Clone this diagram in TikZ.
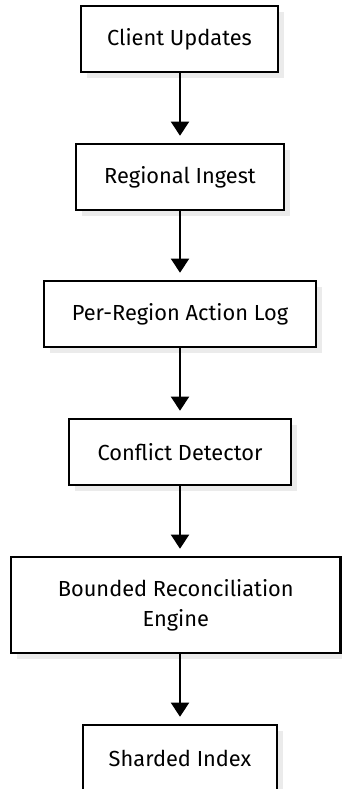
\documentclass[tikz,border=0pt]{standalone}
\usepackage{fontspec}
\setmainfont{Fira Sans}
\usetikzlibrary{arrows.meta,shadows}
\tikzset{
  stage/.style={draw=black, line width=2.6pt, fill=white, inner sep=0pt,
    align=center, font=\fontsize{21.8}{30}\selectfont, text=black,
    drop shadow={shadow xshift=6pt, shadow yshift=-6pt, fill=black!8, opacity=1}},
  flow/.style={line width=2pt, -{Triangle[width=18pt,length=14pt]}, shorten >=7pt}
}
\begin{document}
\begin{tikzpicture}[x=1pt,y=-1pt]
\useasboundingbox (0,0) rectangle (342,789);
\fill[white] (0,0) rectangle (342,789);
\node[stage, minimum width=197pt, minimum height=66pt] (cu) at (179.5,39) {Client Updates};
\node[stage, minimum width=208pt, minimum height=66pt] (ri) at (180,177) {Regional Ingest};
\node[stage, minimum width=272pt, minimum height=66pt] (pl) at (180,314) {Per-Region Action Log};
\node[stage, minimum width=222pt, minimum height=66pt] (cd) at (180,452) {Conflict Detector};
\node[stage, minimum width=329.5pt, minimum height=96pt] (br) at (175.75,605) {Bounded Reconciliation\\Engine};
\node[stage, minimum width=194pt, minimum height=66pt] (si) at (180,758) {Sharded Index};
\draw[flow] (cu.south -| 180,0) -- (ri.north -| 180,0);
\draw[flow] (ri.south) -- (pl.north);
\draw[flow] (pl.south) -- (cd.north);
\draw[flow] (cd.south) -- (br.north -| cd.south);
\draw[flow] (br.south -| cd.south) -- (si.north);
\end{tikzpicture}
\end{document}
